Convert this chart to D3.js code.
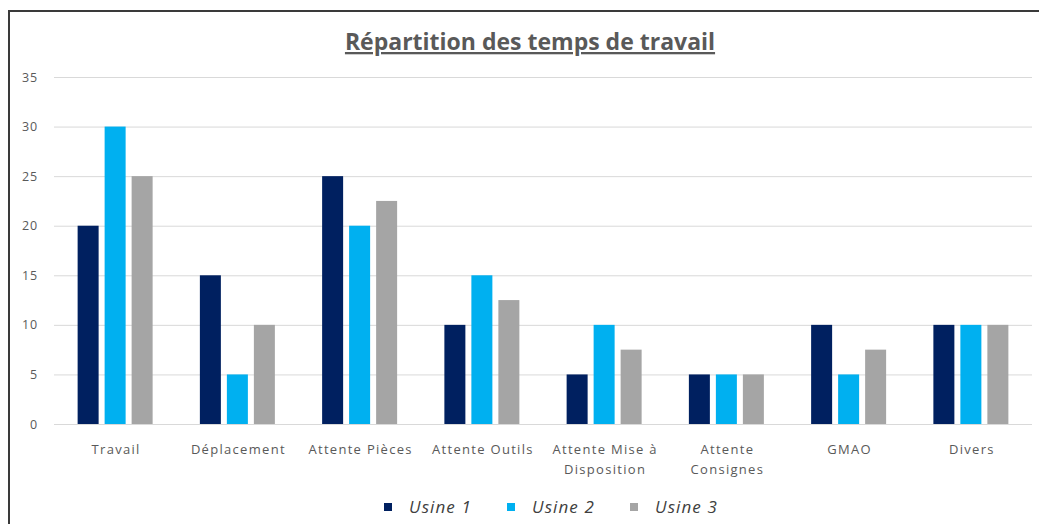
<!DOCTYPE html>
<html>
<head>
<meta charset="utf-8">
<script src="https://cdn.jsdelivr.net/npm/d3@7"></script>
<style>
  body { margin: 0; background: #fff; }
  svg { display: block; }
</style>
</head>
<body>
<script>
const width = 1039;
const height = 524;

const categories = [
  ["Travail"],
  ["Déplacement"],
  ["Attente Pièces"],
  ["Attente Outils"],
  ["Attente Mise à", "Disposition"],
  ["Attente", "Consignes"],
  ["GMAO"],
  ["Divers"],
];
const seriesNames = ["Usine 1", "Usine 2", "Usine 3"];
const usine1 = [20, 15, 25, 10, 5, 5, 10, 10];
const usine2 = [30, 5, 20, 15, 10, 5, 5, 10];
const usine3 = [25, 10, 22.5, 12.5, 7.5, 5, 7.5, 10];
const yTicks = [0, 5, 10, 15, 20, 25, 30, 35];

const colors = ["#002060", "#00B0F0", "#A5A5A5"];
const series = [usine1, usine2, usine3];

const plot = { left: 54, right: 1032, top: 77, bottom: 424 };

const svg = d3
  .select("body")
  .append("svg")
  .attr("width", width)
  .attr("height", height);

// frame (left and top edges visible)
svg
  .append("path")
  .attr("d", `M9,${height} L9,11 L${width},11`)
  .attr("fill", "none")
  .attr("stroke", "#3a3a3a")
  .attr("stroke-width", 2);

const xScale = d3
  .scaleBand()
  .domain(d3.range(categories.length))
  .range([plot.left, plot.right]);

const yScale = d3.scaleLinear().domain([0, 35]).range([plot.bottom, plot.top]);

const barW = 21;
const gap = 6;
const groupW = barW * 3 + gap * 2;

// gridlines
const yAxis = d3
  .axisLeft(yScale)
  .tickValues(yTicks)
  .tickSize(-(plot.right - plot.left))
  .tickPadding(16);

const gy = svg
  .append("g")
  .attr("transform", `translate(${plot.left},0)`)
  .call(yAxis);
gy.select(".domain").remove();
gy.selectAll("line").attr("stroke", "#d9d9d9").attr("stroke-width", 1);
gy.selectAll("text")
  .attr("fill", "#595959")
  .style("font-family", "'Open Sans', sans-serif")
  .style("font-size", "12.5px")
  .style("letter-spacing", "0.8px");

// bars
series.forEach((vals, s) => {
  svg
    .append("g")
    .selectAll("rect")
    .data(vals)
    .enter()
    .append("rect")
    .attr("x", (d, i) => xScale(i) + xScale.bandwidth() / 2 - groupW / 2 + s * (barW + gap))
    .attr("y", (d) => yScale(d))
    .attr("width", barW)
    .attr("height", (d) => yScale(0) - yScale(d))
    .attr("fill", colors[s]);
});

// baseline
svg
  .append("line")
  .attr("x1", plot.left)
  .attr("x2", plot.right)
  .attr("y1", yScale(0) + 0.5)
  .attr("y2", yScale(0) + 0.5)
  .attr("stroke", "#d9d9d9");

// category labels
const xl = svg
  .append("g")
  .selectAll("text")
  .data(categories)
  .enter()
  .append("text")
  .attr("x", (d, i) => xScale(i) + xScale.bandwidth() / 2 + 1)
  .attr("y", 454)
  .attr("text-anchor", "middle")
  .attr("fill", "#595959")
  .style("font-family", "'Open Sans', sans-serif")
  .style("font-size", "13px")
  .style("letter-spacing", "1.3px");
xl.selectAll("tspan")
  .data((d) => d)
  .enter()
  .append("tspan")
  .attr("x", function () {
    return d3.select(this.parentNode).attr("x");
  })
  .attr("dy", (d, i) => (i === 0 ? 0 : 20))
  .text((d) => d);

// title
svg
  .append("text")
  .text("Répartition des temps de travail")
  .attr("x", 530)
  .attr("y", 50)
  .attr("text-anchor", "middle")
  .attr("fill", "#595959")
  .attr("font-weight", "bold")
  .style("font-family", "'Open Sans', sans-serif")
  .style("font-size", "23px")
  .style("text-decoration", "underline");

// legend
const legendX = [384, 507, 630];
const legend = svg
  .append("g")
  .selectAll("g")
  .data(seriesNames)
  .enter()
  .append("g")
  .attr("transform", (d, i) => `translate(${legendX[i]},507)`);
legend
  .append("rect")
  .attr("x", 0)
  .attr("y", -4)
  .attr("width", 8)
  .attr("height", 8)
  .attr("fill", (d, i) => colors[i]);
legend
  .append("text")
  .text((d) => d)
  .attr("x", 25)
  .attr("y", 6)
  .attr("fill", "#404040")
  .style("font-family", "'Open Sans', sans-serif")
  .style("font-style", "italic")
  .style("font-size", "17px")
  .style("letter-spacing", "1.1px");
</script>
</body>
</html>
